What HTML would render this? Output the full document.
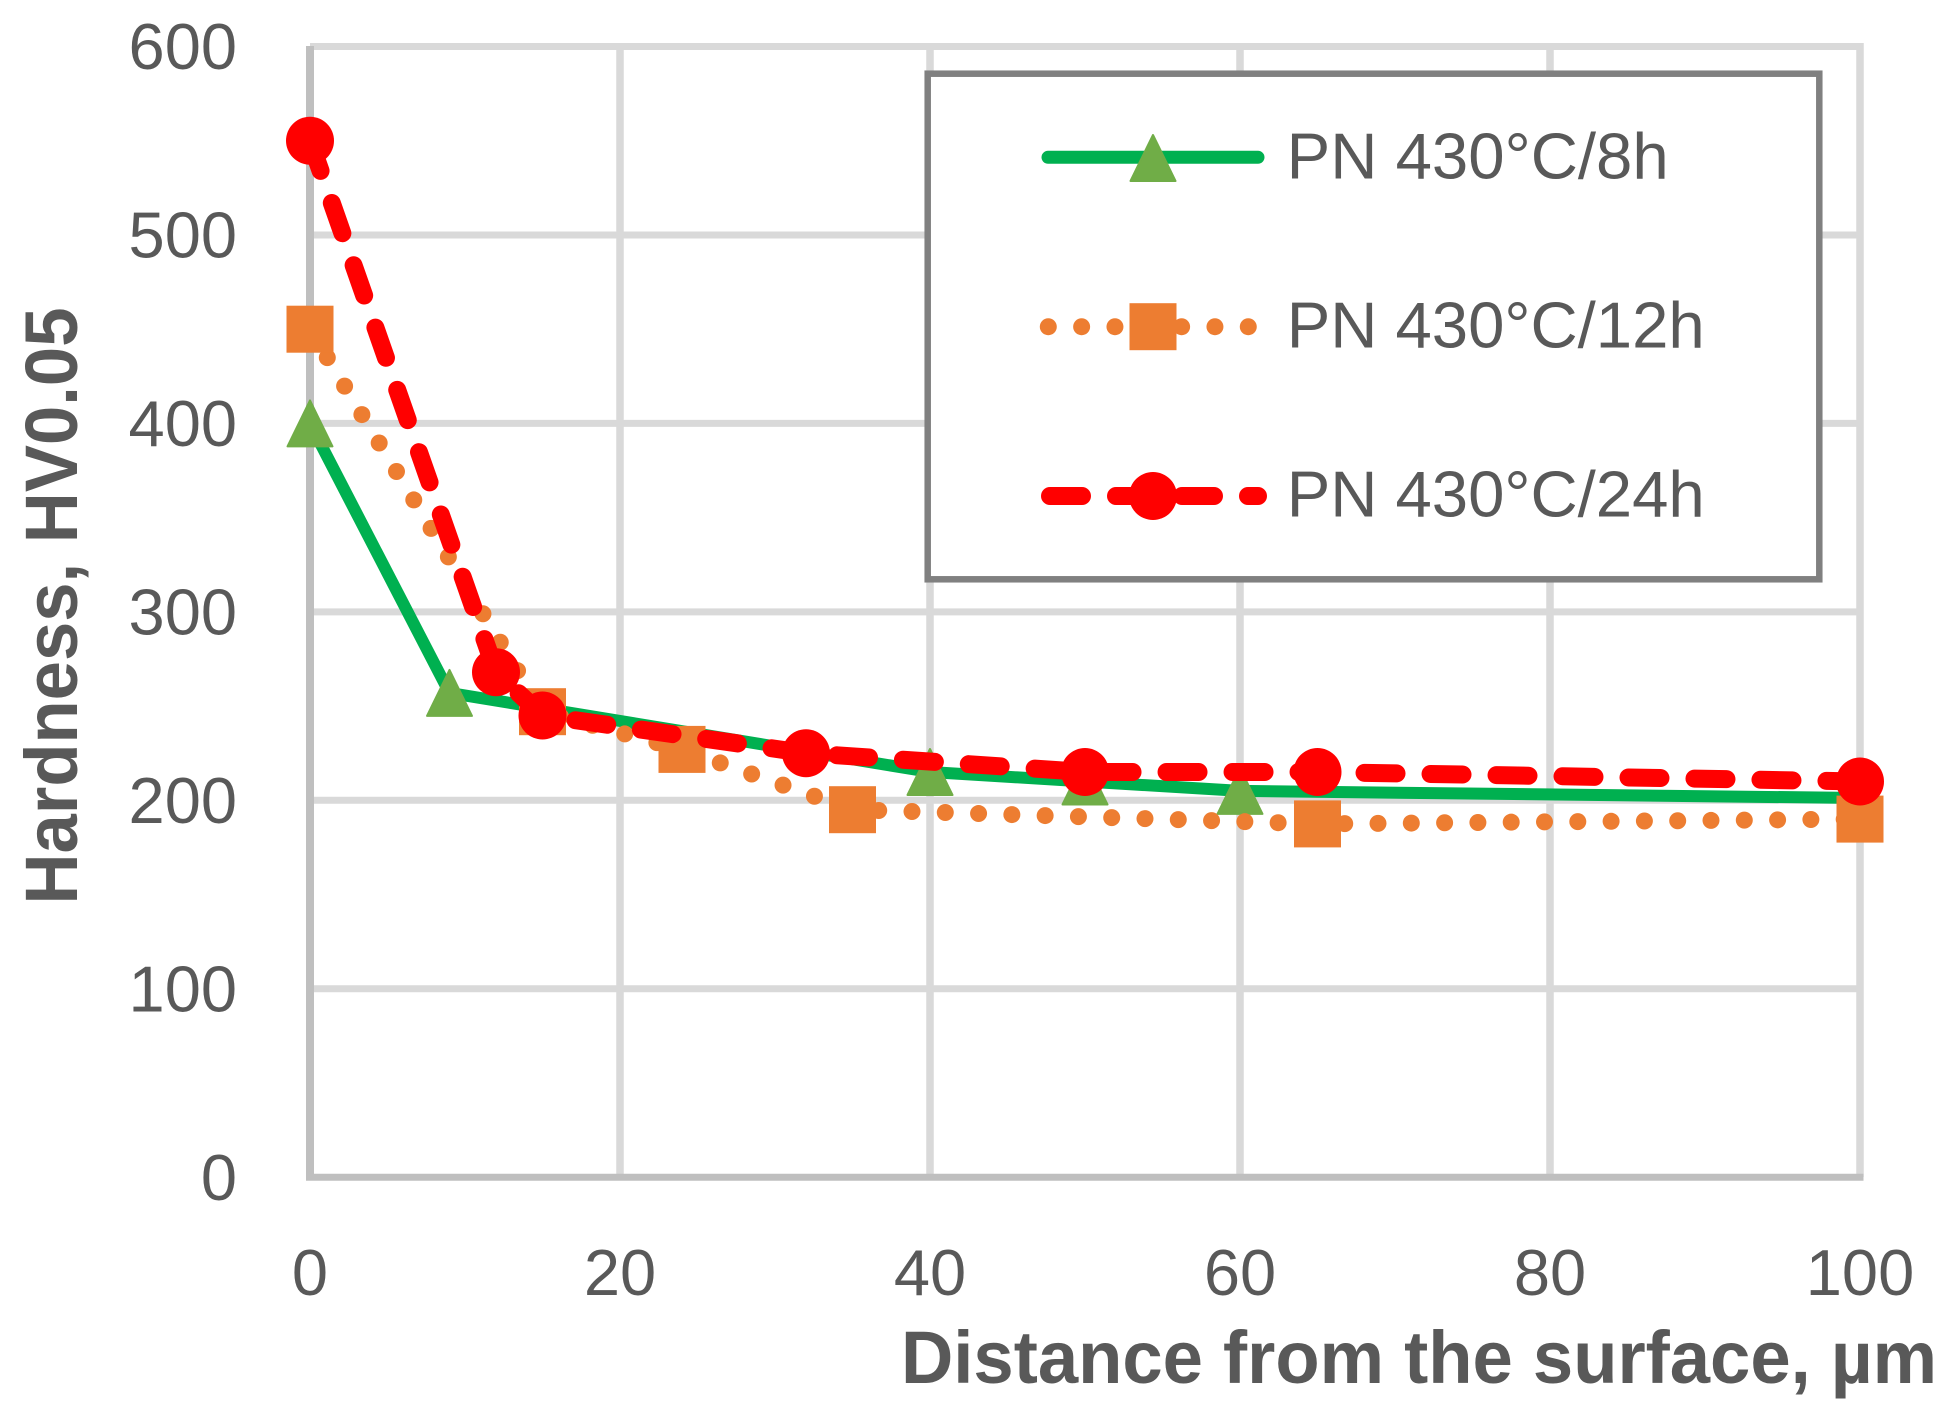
<!DOCTYPE html>
<html>
<head>
<meta charset="utf-8">
<style>
  html, body { margin: 0; padding: 0; background: #ffffff; }
  body { width: 1957px; height: 1415px; overflow: hidden; }
  svg { display: block; }
  text { font-family: "Liberation Sans", Arial, sans-serif; fill: #595959; }
</style>
</head>
<body>
<svg width="1957" height="1415" viewBox="0 0 1957 1415" xmlns="http://www.w3.org/2000/svg">
  <rect x="0" y="0" width="1957" height="1415" fill="#ffffff"/>

  <!-- horizontal gridlines -->
  <g stroke="#D9D9D9" stroke-width="7">
    <line x1="310" y1="46.5" x2="1863.5" y2="46.5"/>
    <line x1="310" y1="234.95" x2="1863.5" y2="234.95"/>
    <line x1="310" y1="423.4" x2="1863.5" y2="423.4"/>
    <line x1="310" y1="611.85" x2="1863.5" y2="611.85"/>
    <line x1="310" y1="800.3" x2="1863.5" y2="800.3"/>
    <line x1="310" y1="988.75" x2="1863.5" y2="988.75"/>
  </g>
  <!-- vertical gridlines -->
  <g stroke="#D9D9D9" stroke-width="7.5">
    <line x1="620" y1="43" x2="620" y2="1177"/>
    <line x1="930" y1="43" x2="930" y2="1177"/>
    <line x1="1240" y1="43" x2="1240" y2="1177"/>
    <line x1="1550" y1="43" x2="1550" y2="1177"/>
    <line x1="1860" y1="43" x2="1860" y2="1177"/>
  </g>
  <!-- axes -->
  <line x1="310" y1="46" x2="310" y2="1180.5" stroke="#BFBFBF" stroke-width="8"/>
  <line x1="306" y1="1177.2" x2="1863.5" y2="1177.2" stroke="#BFBFBF" stroke-width="7"/>

  <!-- Y tick labels -->
  <g font-size="65" text-anchor="end">
    <text x="237" y="69">600</text>
    <text x="237" y="257.5">500</text>
    <text x="237" y="446">400</text>
    <text x="237" y="634.5">300</text>
    <text x="237" y="823">200</text>
    <text x="237" y="1011.5">100</text>
    <text x="237" y="1200">0</text>
  </g>
  <!-- X tick labels -->
  <g font-size="65" text-anchor="middle">
    <text x="310" y="1295">0</text>
    <text x="620" y="1295">20</text>
    <text x="930" y="1295">40</text>
    <text x="1240" y="1295">60</text>
    <text x="1550" y="1295">80</text>
    <text x="1860" y="1295">100</text>
  </g>

  <!-- axis titles -->
  <text x="0" y="0" font-size="74" font-weight="bold" text-anchor="middle"
        textLength="597" lengthAdjust="spacingAndGlyphs"
        transform="translate(77,606) rotate(-90)">Hardness, HV0.05</text>
  <text x="901" y="1383" font-size="74" font-weight="bold"
        textLength="1036" lengthAdjust="spacingAndGlyphs">Distance from the surface, µm</text>

  <!-- Series 1: PN 430°C/8h (green solid, triangles) -->
  <polyline fill="none" stroke="#00B050" stroke-width="12" stroke-linejoin="round" stroke-linecap="round"
    points="310,423.4 449.5,692.9 930,772 1085,781.5 1240,790.9 1860,798"/>
  <g fill="#70AD47" stroke="#70AD47" stroke-width="2" stroke-linejoin="round">
    <polygon points="287.5,446.4 310,400.4 332.5,446.4"/>
    <polygon points="427,715.9 449.5,669.9 472,715.9"/>
    <polygon points="907.5,795 930,749 952.5,795"/>
    <polygon points="1062.5,804.5 1085,758.5 1107.5,804.5"/>
    <polygon points="1217.5,813.9 1240,767.9 1262.5,813.9"/>
    <polygon points="1837.5,821 1860,775 1882.5,821"/>
  </g>

  <!-- Series 2: PN 430°C/12h (orange dotted, squares) -->
  <polyline fill="none" stroke="#ED7D31" stroke-width="17" stroke-linecap="round" stroke-linejoin="round"
    stroke-dasharray="0 33.3"
    points="310,329.2 542.5,711.7 682,749.4 852.5,809.7 1317.5,823.9 1860,819.1"/>
  <g fill="#ED7D31">
    <rect x="286.5" y="305.7" width="47" height="47"/>
    <rect x="519" y="688.2" width="47" height="47"/>
    <rect x="658.5" y="725.9" width="47" height="47"/>
    <rect x="829" y="786.2" width="47" height="47"/>
    <rect x="1294" y="800.4" width="47" height="47"/>
    <rect x="1836.5" y="795.6" width="47" height="47"/>
  </g>

  <!-- Series 3: PN 430°C/24h (red dashed, circles) -->
  <polyline fill="none" stroke="#FF0000" stroke-width="18" stroke-linecap="round" stroke-linejoin="round"
    stroke-dasharray="32 34"
    points="310,140.7 496,672.2 542.5,715.5 806,753.2 1085,772 1317.5,772 1860,781.5"/>
  <g fill="#FF0000">
    <circle cx="310" cy="140.7" r="24"/>
    <circle cx="496" cy="672.2" r="24"/>
    <circle cx="542.5" cy="715.5" r="24"/>
    <circle cx="806" cy="753.2" r="24"/>
    <circle cx="1085" cy="772" r="24"/>
    <circle cx="1317.5" cy="772" r="24"/>
    <circle cx="1860" cy="781.5" r="24"/>
  </g>

  <!-- Legend -->
  <rect x="927.7" y="73.7" width="891.6" height="505.6" fill="#ffffff" stroke="#808080" stroke-width="6.5"/>
  <!-- row 1 -->
  <line x1="1048" y1="157.3" x2="1258" y2="157.3" stroke="#00B050" stroke-width="13" stroke-linecap="round"/>
  <polygon points="1130.5,181 1153,135 1175.5,181" fill="#70AD47" stroke="#70AD47" stroke-width="2" stroke-linejoin="round"/>
  <text x="1286.7" y="178.3" font-size="65" textLength="382" lengthAdjust="spacingAndGlyphs">PN 430°C/8h</text>
  <!-- row 2 -->
  <line x1="1048.3" y1="326.7" x2="1260" y2="326.7" stroke="#ED7D31" stroke-width="17" stroke-linecap="round" stroke-dasharray="0 33.33"/>
  <rect x="1129.5" y="303.2" width="47" height="47" fill="#ED7D31"/>
  <text x="1286.7" y="347.7" font-size="65" textLength="418" lengthAdjust="spacingAndGlyphs">PN 430°C/12h</text>
  <!-- row 3 -->
  <line x1="1050" y1="496" x2="1258" y2="496" stroke="#FF0000" stroke-width="18" stroke-linecap="round" stroke-dasharray="32 34"/>
  <circle cx="1153" cy="496" r="24" fill="#FF0000"/>
  <text x="1286.7" y="516.7" font-size="65" textLength="418" lengthAdjust="spacingAndGlyphs">PN 430°C/24h</text>
</svg>
</body>
</html>
